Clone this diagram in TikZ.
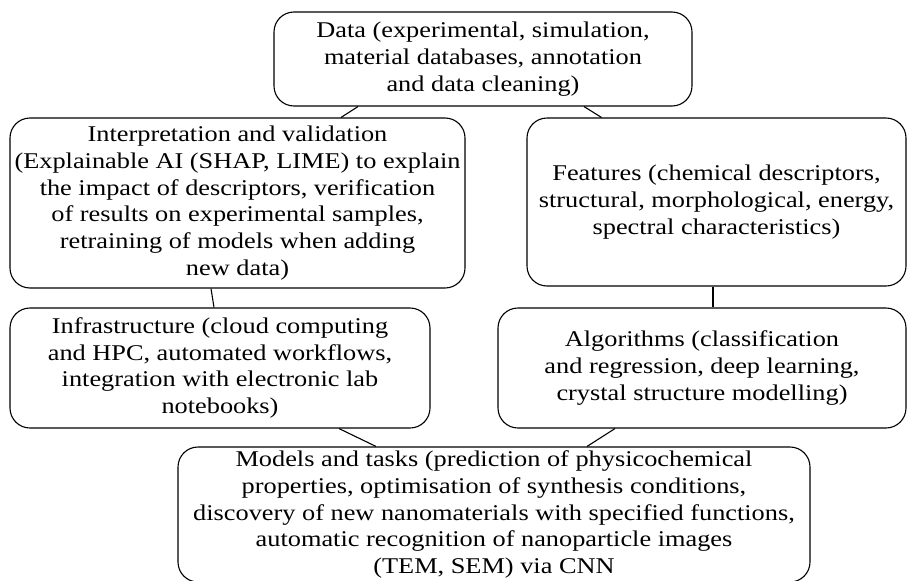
\documentclass[tikz,border=0pt]{standalone}
\usepackage{fontspec}
\setmainfont{Liberation Serif}[FakeStretch=1.17]
\usetikzlibrary{
    calc
}
\tikzset{
  every path/.style={
    black,
    line width=1.1pt
  },
  block/.style={
    draw,
    rounded corners=20pt,
    align=center,
    inner sep=2pt,
    font=\fontsize{22.5}{26.7}\selectfont
  }
}

\begin{document}
\begin{tikzpicture}[x=1pt,y=-1pt]
    \useasboundingbox (0,0) rectangle (908,581);

    % 上段
    \node[block,minimum width=418pt,minimum height=94pt] (data) at (483,59)
        {Data (experimental, simulation,\\material databases, annotation\\and data cleaning)};

    % 中段
    \node[block,minimum width=455pt,minimum height=170pt] (interp) at (237.5,203)
        {Interpretation and validation\\(Explainable AI (SHAP, LIME) to explain\\the impact of descriptors, verification\\of results on experimental samples,\\retraining of models when adding\\new data)};
    \node[block,minimum width=379pt,minimum height=168pt] (feat) at (716.5,202)
        {Features (chemical descriptors,\\structural, morphological, energy,\\spectral characteristics)};

    \node[block,minimum width=420pt,minimum height=120pt] (infra) at (220,368)
        {Infrastructure (cloud computing\\and HPC, automated workflows,\\integration with electronic lab\\notebooks)};
    \node[block,minimum width=408pt,minimum height=120pt] (algo) at (702,368)
        {Algorithms (classification\\and regression, deep learning,\\crystal structure modelling)};

    % 下段
    \node[block,minimum width=632pt,minimum height=135pt] (models) at (494,514.5)
        {Models and tasks (prediction of physicochemical\\properties, optimisation of synthesis conditions,\\discovery of new nanomaterials with specified functions,\\automatic recognition of nanoparticle images\\(TEM, SEM) via CNN};

    % 接続線
    \draw ($(data.south)+(-125,0)$) -- ($(interp.north)+(103.5,0)$);
    \draw ($(data.south)+(101,0)$) -- ($(feat.north)+(-115,0)$);
    \draw ($(interp.south)+(-26.5,0)$) -- ($(infra.north)+(-6,0)$);
    \draw ($(feat.south)+(-3.5,0)$) -- ($(algo.north)+(11,0)$);
    \draw ($(infra.south)+(119,0)$) -- ($(models.north)+(-118,0)$);
    \draw ($(algo.south)+(-87,0)$) -- ($(models.north)+(93,0)$);
\end{tikzpicture}
\end{document}
